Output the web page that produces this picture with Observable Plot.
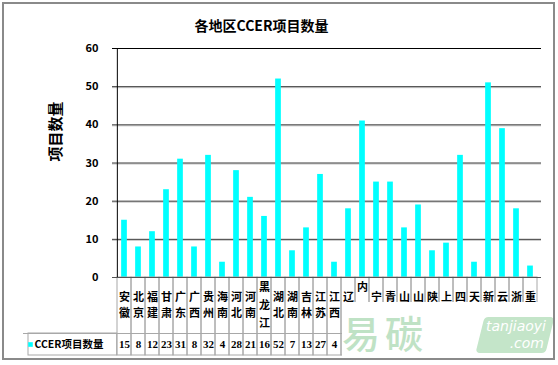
<!DOCTYPE html>
<html>
<head>
<meta charset="utf-8">
<script src="https://cdn.jsdelivr.net/npm/d3@7"></script>
<script src="https://cdn.jsdelivr.net/npm/@observablehq/plot@0.6"></script>
<style>
  html, body { margin: 0; padding: 0; background: #fff; }
  #wrap { position: relative; width: 558px; height: 365px; overflow: hidden; background: #fff;
          font-family: "Noto Sans CJK SC", sans-serif; }
  #wrap svg { position: absolute; left: 0; top: 0; }
  .border { position: absolute; left: 2px; top: 2px; width: 553px; height: 358px; box-sizing: border-box;
            border: 2px solid #8a8a8a; pointer-events: none; }
  .cover { position: absolute; left: 342px; top: 302px; width: 210px; height: 55px; background: #fff; }
  .wm-cn { position: absolute; left: 342px; top: 313px; font-size: 38px; line-height: 38px; color: #bfe2c5;
           font-family: "Noto Sans CJK SC", sans-serif; font-weight: 500; letter-spacing: 5px; white-space: nowrap; }
  .wm-box { position: absolute; left: 480px; top: 317px; width: 70px; height: 36px; background: #c4e5c9;
            transform: skewX(-14deg); border-radius: 4px; }
  .wm-t1 { position: absolute; left: 480px; top: 318px; width: 72px; text-align: center; color: #fff;
           font-family: "DejaVu Sans", sans-serif; font-style: italic; font-size: 14px; line-height: 16px; }
  .wm-t2 { position: absolute; left: 480px; top: 335px; width: 64px; text-align: right; color: #fff;
           font-family: "DejaVu Sans", sans-serif; font-style: italic; font-size: 14px; line-height: 16px; }
</style>
</head>
<body>
<div id="wrap"></div>
<script>
// ---- data ----
const regions = ["安徽","北京","福建","甘肃","广东","广西","贵州","海南","河北","河南","黑龙江","湖北","湖南","吉林","江苏","江西","辽宁","内蒙古","宁夏","青海","山东","山西","陕西","上海","四川","天津","新疆","云南","浙江","重庆"];
const counts = [15,8,12,23,31,8,32,4,28,21,16,52,7,13,27,4,18,41,25,25,13,19,7,9,32,4,51,39,18,3];
const yTicks = [0,10,20,30,40,50,60];
const seriesName = "CCER项目数量";
const chartTitle = "各地区CCER项目数量";
const yTitle = "项目数量";

// ---- layout ----
const W = 558, H = 365;
const mL = 112, mR = 17, mT = 48, mB = 10;
const zeroPx = 277;
const pxPerUnit = (zeroPx - mT) / 60;
const toV = px => (zeroPx - px) / pxPerUnit;
const yMin = toV(H - mB);
const bw = (W - mL - mR) / regions.length;
const rowTopV = toV(333);
const valueV = toV(344);
const coverTopPx = 302;      // the watermark hides the table below this line
const visibleCols = 16;      // columns whose table entries are not hidden by the watermark

const data = regions.map((r, i) => ({region: r, count: counts[i], i}));

// category label characters, stacked vertically (one char per line)
const labelChars = data.flatMap(d => {
  const chars = Array.from(d.region);
  const step = chars.length > 2 ? 18 : 16;
  const center = 305;
  return chars.map((c, k) => {
    const px = center + (k - (chars.length - 1) / 2) * step;
    return {region: d.region, ch: c, px, i: d.i};
  });
}).filter(d => d.i < visibleCols || d.px < coverTopPx)
  .map(d => ({...d, y: toV(d.px)}));

const font = "Noto Sans CJK SC";

const chart = Plot.plot({
  width: W, height: H,
  marginLeft: mL, marginRight: mR, marginTop: mT, marginBottom: mB,
  style: {fontFamily: font, background: "transparent", overflow: "visible"},
  x: {type: "band", domain: regions, padding: 0, axis: null},
  y: {domain: [yMin, 60], axis: null},
  marks: [
    // grid shadow and grid
    Plot.ruleY(yTicks.slice(1, 6), {stroke: "#c4c4c4", dy: 1}),
    Plot.ruleY(yTicks.slice(1, 6), {stroke: "#3a3a3a"}),
    Plot.ruleY([60], {stroke: "#000"}),
    // bars
    Plot.barY(data, {x: "region", y: "count", fill: "#00ffff", insetLeft: (bw - 6) / 2, insetRight: (bw - 6) / 2}),
    // data table cells
    Plot.barY(data, {x: "region", y1: yMin, y2: 0, fill: "none", stroke: "#a8a8a8"}),
    Plot.ruleY([rowTopV], {stroke: "#a8a8a8", insetLeft: -(mL - 23)}),
    Plot.barY([regions[0]], {x: d => d, y1: yMin, y2: rowTopV, fill: "none", stroke: "#a8a8a8",
      insetLeft: -(mL - 23), insetRight: bw}),
    // x axis line and y axis line
    Plot.ruleY([0], {stroke: "#555"}),
    Plot.ruleX([regions[0]], {y1: 0, y2: 60, stroke: "#000", dx: -bw / 2}),
    // y tick labels
    Plot.axisY({ticks: yTicks, tickSize: 0, tickPadding: 14, label: null, fontSize: 11, fontWeight: "bold", fill: "#000"}),
    // category labels
    Plot.text(labelChars, {x: "region", y: "y", text: "ch", fontSize: 11, fontWeight: "bold", fill: "#000"}),
    // value row (visible part)
    Plot.text(data.filter(d => d.i < visibleCols), {x: "region", y: valueV, text: d => String(d.count), fontSize: 11, fontWeight: "bold", fill: "#000",
      fontFamily: "Liberation Serif"}),
    // legend key
    Plot.dot([seriesName], {frameAnchor: "left", y: valueV, dx: -(mL - 30), symbol: "square", r: 2.6, fill: "#00ffff", stroke: "none"}),
    Plot.text([seriesName], {frameAnchor: "left", y: valueV, dx: -(mL - 34), textAnchor: "start", fontSize: 10.5, fontWeight: "bold", fill: "#000"}),
    // titles
    Plot.text([chartTitle], {frameAnchor: "top", dy: 21 - mT, dx: 261 - (mL + (W - mL - mR) / 2), fontSize: 14, fontWeight: "bold", fill: "#000"}),
    Plot.text([yTitle], {frameAnchor: "left", y: toV(161), dx: 56 - mL, rotate: -90, fontSize: 15, fontWeight: "bold", fill: "#000"})
  ]
});

const wrap = document.getElementById("wrap");
wrap.appendChild(chart);
wrap.insertAdjacentHTML("beforeend", `
  <div class="cover"></div>
  <div class="wm-cn">易碳</div>
  <div class="wm-box"></div>
  <div class="wm-t1">tanjiaoyi</div>
  <div class="wm-t2">.com</div>
  <div class="border"></div>
`);
</script>
</body>
</html>
